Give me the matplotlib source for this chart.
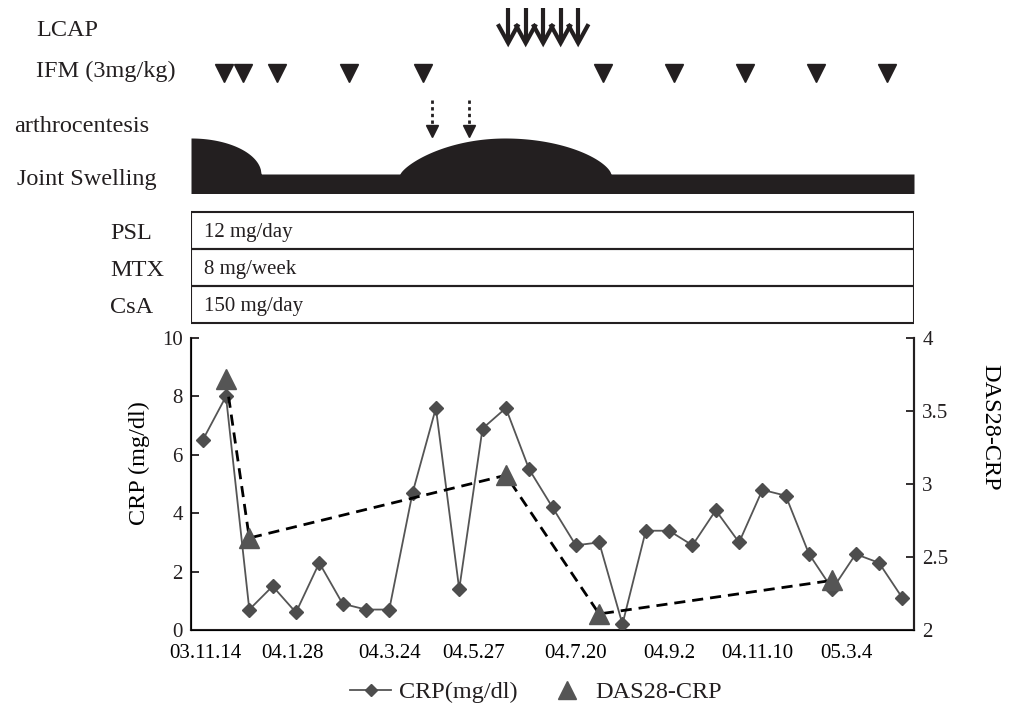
import matplotlib.pyplot as plt
import numpy as np

plt.rcParams['font.family'] = ['Liberation Serif', 'DejaVu Serif']
plt.rcParams['text.color'] = '#231f20'

ink = '#231f20'
grey = '#555555'

# CRP (mg/dl) at each visit, 31 visits on a category axis
crp = [6.5, 8.0, 0.7, 1.5, 0.6, 2.3, 0.9, 0.7, 0.7, 4.7, 7.6, 1.4, 6.9, 7.6, 5.5, 4.2,
       2.9, 3.0, 0.2, 3.4, 3.4, 2.9, 4.1, 3.0, 4.8, 4.6, 2.6, 1.4, 2.6, 2.3, 1.1]

# DAS28-CRP measured at a few visits (index into the visits)
das_idx = [1, 2, 13, 17, 27]
das_val = [3.72, 2.63, 3.06, 2.11, 2.34]

date_labels = ['03.11.14', '04.1.28', '04.3.24', '04.5.27', '04.7.20', '04.9.2', '04.11.10', '05.3.4']
date_pos = [0.1, 3.85, 8.0, 11.6, 16.0, 20.0, 23.8, 27.6]

# treatment events, in visit units
lcap_pos = [13.1, 13.85, 14.6, 15.35, 16.1]
ifm_pos = [0.92, 1.72, 3.17, 6.29, 9.46, 17.15, 20.19, 23.26, 26.3, 29.36]
arthro_pos = [9.85, 11.43]

# joint swelling humps: (start, peak, end, rise shape, fall shape)
humps = [(-0.5, -0.5, 2.5, 1.0, 1.0), (8.46, 12.96, 17.5, 0.75, 1.3)]

drugs = ['PSL', 'MTX', 'CsA']
doses = ['12 mg/day', '8 mg/week', '150 mg/day']

W, H = 1013, 711
fig = plt.figure(figsize=(W / 100, H / 100), dpi=100)

x0, x1 = 191, 914
xlim = (-0.5, 30.5)

# ---- main chart ----
ax = fig.add_axes([x0 / W, 1 - 630 / H, (x1 - x0) / W, 292 / H])
x = np.arange(len(crp))
ax.plot(x, crp, color=grey, lw=1.3, marker='D', ms=7, mfc='#4d4d4d', mec='#4d4d4d',
        label='CRP(mg/dl)', zorder=3)
ax.set_xlim(*xlim)
ax.set_ylim(0, 10)
ax.set_yticks(range(0, 11, 2))
ax.set_xticks(date_pos)
ax.set_xticklabels(date_labels)
ax.tick_params(axis='x', length=0, pad=10, labelsize=15)
ax.tick_params(axis='y', direction='in', length=6, width=1.3, labelsize=15, colors=ink, pad=6)
ax.spines['top'].set_visible(False)
for s in ['left', 'bottom', 'right']:
    ax.spines[s].set_color(ink)
    ax.spines[s].set_linewidth(1.5)
ax.set_ylabel('CRP (mg/dl)', fontsize=17.5)
ax.yaxis.set_label_coords(-0.057, 0.572)

ax2 = ax.twinx()
ax2.plot(das_idx, das_val, color='black', lw=2, ls=(0, (4, 2.5)), zorder=2)
ax2.plot(das_idx, das_val, ls='none', marker='^', ms=14, color=grey, label='DAS28-CRP', zorder=4)
ax2.set_ylim(2, 4)
ax2.set_yticks([2, 2.5, 3, 3.5, 4])
ax2.set_yticklabels(['2', '2.5', '3', '3.5', '4'])
ax2.tick_params(axis='y', direction='in', length=6, width=1.3, labelsize=15, colors=ink, pad=6)
ax2.spines['top'].set_visible(False)
ax2.spines['right'].set_color(ink)
ax2.spines['right'].set_linewidth(1.5)
ax2.set_ylabel('DAS28-CRP', fontsize=17.5, rotation=270, va='center')
ax2.yaxis.set_label_coords(1.105, 0.695)

h1, l1 = ax.get_legend_handles_labels()
h2, l2 = ax2.get_legend_handles_labels()
fig.legend(h1 + h2, l1 + l2, loc='center', bbox_to_anchor=(0.529, 1 - 692 / H), ncol=2,
           frameon=False, fontsize=17.5, handlelength=1.7, handletextpad=0.3,
           columnspacing=1.2, markerscale=0.9)

# ---- top panel (y in pixel units) ----
top = fig.add_axes([x0 / W, 1 - 338 / H, (x1 - x0) / W, 338 / H])
top.set_xlim(*xlim)
top.set_ylim(338, 0)
top.axis('off')

# LCAP arrows
for p in lcap_pos:
    top.plot([p, p], [8, 43], color=ink, lw=3, solid_capstyle='butt')
    top.plot([p - 0.4, p, p + 0.4], [26, 43, 26], color=ink, lw=3, solid_joinstyle='miter')

# IFM infusions
top.plot(ifm_pos, [72.5] * len(ifm_pos), ls='none', marker='v', ms=13, color=ink)

# arthrocentesis
for p in arthro_pos:
    top.plot([p, p], [100, 126], color=ink, lw=2, ls=(0, (1.2, 1.2)))
    top.plot(p, 131, marker='v', ms=8, color=ink)

# joint swelling band with humps
xs = np.linspace(xlim[0], xlim[1], 1200)
upper = np.full_like(xs, 174.0)
for s, pk, e, p_up, p_down in humps:
    left = (xs >= s) & (xs < pk)
    u = (pk - xs[left]) / (pk - s)
    upper[left] = np.minimum(upper[left], 174 - 36 * np.clip(1 - u ** 2, 0, 1) ** p_up)
    right = (xs >= pk) & (xs <= e)
    u = (xs[right] - pk) / (e - pk)
    upper[right] = np.minimum(upper[right], 174 - 36 * np.clip(1 - u ** 2, 0, 1) ** (p_down / 2))
top.fill_between(xs, upper, 193.5, color=ink, lw=0)

# drug boxes
row_top = [211.7, 249.0, 286.2]
row_h = 37.2
for i, (d, dose) in enumerate(zip(drugs, doses)):
    top.add_patch(plt.Rectangle((xlim[0], row_top[i]), xlim[1] - xlim[0], row_h,
                                fill=False, ec=ink, lw=1.5))
    top.text(xlim[0] + 13 / 23.32, row_top[i] + row_h / 2 + 2, dose, fontsize=15,
             va='center', ha='left')
    fig.text(110 / W, 1 - (row_top[i] + row_h / 2 + 3) / H, d, fontsize=17.5,
             va='center', ha='left')

# left labels
for txt, xp, yp in [('LCAP', 36, 30), ('IFM (3mg/kg)', 36, 71),
                    ('arthrocentesis', 14, 126), ('Joint Swelling', 17, 180)]:
    fig.text(xp / W, 1 - yp / H, txt, fontsize=17.5, va='center', ha='left')

fig.savefig('out.png', dpi=100)
